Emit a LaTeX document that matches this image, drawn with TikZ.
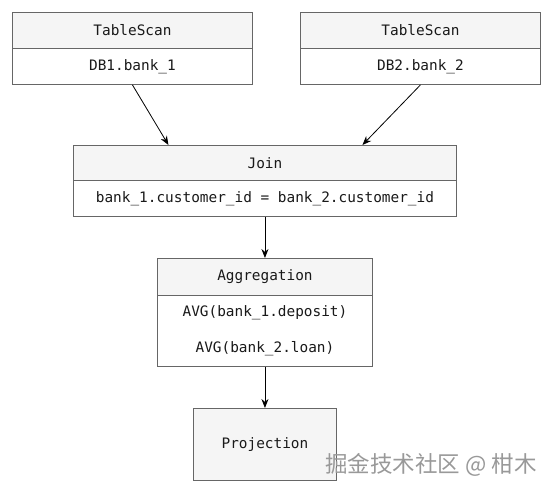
\documentclass[tikz,border=0pt]{standalone}
\usepackage{fontspec}
\setmonofont{DejaVu Sans Mono}
\newfontfamily\cjk{Noto Sans CJK SC}
\usetikzlibrary{arrows.meta,positioning}
\definecolor{edge}{HTML}{666666}
\definecolor{head}{HTML}{F5F5F5}
\begin{document}
\begin{tikzpicture}[x=1pt,y=-1pt,
  box/.style={draw=edge,line width=0.9pt,anchor=north west,inner sep=0pt,
    font=\ttfamily\fontsize{14.4}{17}\selectfont,text=black!90},
  hd/.style={box,fill=head},
  bd/.style={box,fill=white},
  arr/.style={-{Stealth[length=9pt,width=7pt]},line width=0.8pt,black}]
\useasboundingbox[fill=white] (0,0) rectangle (554,494);
% TableScan 1
\node[hd,minimum width=240pt,minimum height=36pt] (ts1h) at (12,12) {TableScan};
\node[bd,minimum width=240pt,minimum height=36pt] (ts1b) at (12,48) {DB1.bank\_1};
% TableScan 2
\node[hd,minimum width=240pt,minimum height=36pt] (ts2h) at (300,12) {TableScan};
\node[bd,minimum width=240pt,minimum height=36pt] (ts2b) at (300,48) {DB2.bank\_2};
% Join
\node[hd,minimum width=383pt,minimum height=35pt] (jh) at (73,145) {Join};
\node[bd,minimum width=383pt,minimum height=36pt] (jb) at (73,180) {bank\_1.customer\_id = bank\_2.customer\_id};
% Aggregation
\node[hd,minimum width=215pt,minimum height=37pt] (ah) at (157,258) {Aggregation};
\node[bd,minimum width=215pt,minimum height=71pt,align=center] (ab) at (157,295)
  {AVG(bank\_1.deposit)\\[19pt]AVG(bank\_2.loan)};
% Projection
\node[hd,minimum width=143pt,minimum height=72pt] (pr) at (193,408) {Projection};
% arrows
\draw[arr] (ts1b.south) -- ([xshift=-96.5pt]jh.north);
\draw[arr] (ts2b.south) -- ([xshift=97.5pt]jh.north);
\draw[arr] (jb.south) -- (ah.north);
\draw[arr] (ab.south) -- (pr.north);
% watermark
\node[anchor=west,inner sep=0pt,text=gray!80,font=\cjk\fontsize{22.5}{26}\selectfont] (wm) at (325,465) {掘金技术社区 @ 柑木};
\end{tikzpicture}
\end{document}
